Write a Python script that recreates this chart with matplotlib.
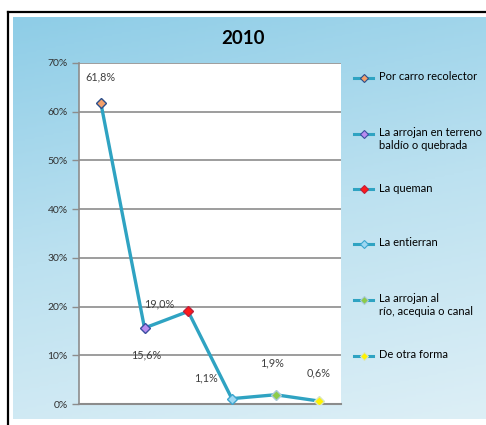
import matplotlib
matplotlib.use("Agg")
import matplotlib.pyplot as plt
import numpy as np
from matplotlib.lines import Line2D
from matplotlib.colors import LinearSegmentedColormap
from matplotlib.ticker import FuncFormatter

plt.rcParams['font.family'] = ['Lato', 'DejaVu Sans']

title = "2010"
categories = ["Por carro recolector",
              "La arrojan en terreno\nbaldío o quebrada",
              "La queman",
              "La entierran",
              "La arrojan al\nrío, acequia o canal",
              "De otra forma"]
values = [0.618, 0.156, 0.190, 0.011, 0.019, 0.006]
labels = ["61,8%", "15,6%", "19,0%", "1,1%", "1,9%", "0,6%"]
yticks = [0, 0.1, 0.2, 0.3, 0.4, 0.5, 0.6, 0.7]

face_colors = ["#F4A06A", "#B98CF0", "#FF1A1A", "#9FD8F2", "#8CCB4A", "#FFF200"]
edge_colors = ["#2B4F8C", "#3B4FA0", "#C0203A", "#3DA6CF", "#A9C9D9", "#D8E6C0"]
label_offsets = [(0, 26), (2, -27), (-29, 8), (-26, 21), (-3, 32), (-1, 28)]
line_color = "#2FA3C2"

W, H = 486, 425
fig = plt.figure(figsize=(W / 100, H / 100), dpi=100)
fig.patch.set_facecolor("white")

# background gradient
bg = fig.add_axes([13 / W, 1 - 419 / H, 1 - 13 / W, (419 - 17) / H])
cmap = LinearSegmentedColormap.from_list("bg", ["#8ECDE7", "#BCE1F0", "#DDEFF6"])
yy, xx = np.mgrid[0:1:200j, 0:1:200j]
grad = 0.8 * yy + 0.2 * xx
bg.imshow(grad, cmap=cmap, aspect="auto", extent=[0, 1, 1, 0], vmin=0, vmax=1)
bg.set_axis_off()

# black frame lines
fig.add_artist(Line2D([8 / W, 8 / W], [0, 1 - 12 / H], transform=fig.transFigure,
                      color="black", lw=1.6))
fig.add_artist(Line2D([8 / W, 1], [1 - 12 / H, 1 - 12 / H], transform=fig.transFigure,
                      color="black", lw=1.6))

ax = fig.add_axes([79 / W, 1 - 404 / H, (341 - 79) / W, (404 - 63) / H])
ax.set_facecolor("white")
x = np.arange(len(values))
ax.plot(x, values, color=line_color, lw=2.4, zorder=3)
for i in range(len(values)):
    ax.plot(x[i], values[i], marker="D", ms=5.3, mfc=face_colors[i], mec=edge_colors[i],
            mew=1.0, zorder=4, linestyle="none")
    ax.annotate(labels[i], (x[i], values[i]), xytext=label_offsets[i],
                textcoords="offset pixels", ha="center", va="center",
                fontsize=7.8, color="#404040", zorder=5)

ax.set_xlim(-0.5, len(values) - 0.5)
ax.set_ylim(0, 0.7)
ax.set_yticks(yticks)
ax.yaxis.set_major_formatter(FuncFormatter(lambda v, p: f"{round(v * 100)}%"))
ax.set_xticks([])
ax.grid(axis="y", color="#8C8C8C", lw=1.2)
ax.set_axisbelow(True)
for s in ["top", "right"]:
    ax.spines[s].set_visible(False)
ax.spines["left"].set_color("#8C8C8C")
ax.spines["bottom"].set_color("#8C8C8C")
ax.spines["left"].set_linewidth(1.2)
ax.spines["bottom"].set_linewidth(1.5)
ax.tick_params(axis="y", length=5, width=1, color="#8C8C8C", labelsize=7.5,
               labelcolor="#303030", pad=3)

fig.text(243 / W, 1 - 38 / H, title, ha="center", va="center", fontsize=13.5,
         fontweight="bold", color="black")

# legend (manual, one entry per category)
legend_y = [78, 134, 189, 244, 300, 356]
for i, cat in enumerate(categories):
    yf = 1 - legend_y[i] / H
    fig.add_artist(Line2D([354 / W, 373 / W], [yf, yf], transform=fig.transFigure,
                          color=line_color, lw=2.2))
    fig.add_artist(Line2D([363.5 / W], [yf], transform=fig.transFigure, marker="D",
                          ms=4.5, mfc=face_colors[i], mec=edge_colors[i], mew=0.8,
                          linestyle="none"))
    fig.text(379 / W, 1 - (legend_y[i] - 6.5) / H, cat, ha="left", va="top",
             fontsize=8, color="black", linespacing=1.2)

fig.savefig("out.png", dpi=100)
